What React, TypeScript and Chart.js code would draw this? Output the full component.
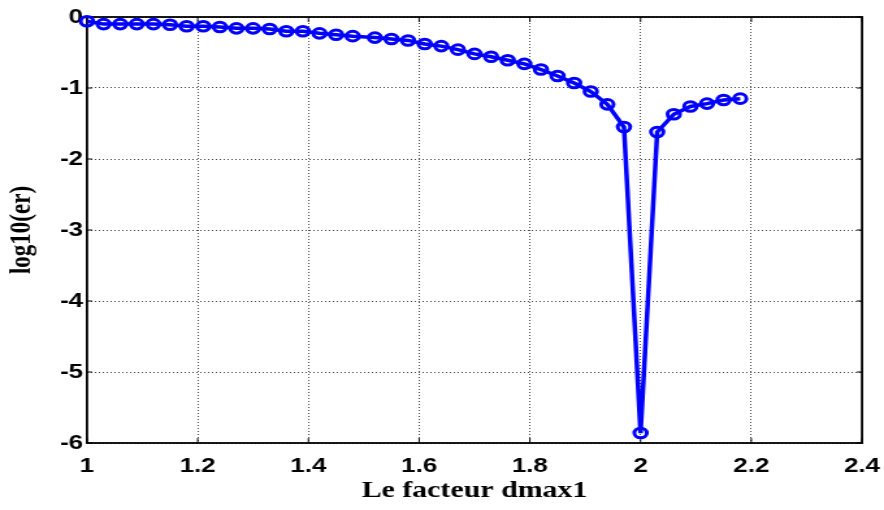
import React, { useEffect, useRef } from "react";
import { Chart, registerables } from "chart.js";

Chart.register(...registerables);

// dmax1 factor values (x) and log10 of the error (y)
const facteur: number[] = [
  1.0, 1.03, 1.06, 1.09, 1.12, 1.15, 1.18, 1.21, 1.24, 1.27,
  1.3, 1.33, 1.36, 1.39, 1.42, 1.45, 1.48, 1.52, 1.55, 1.58,
  1.61, 1.64, 1.67, 1.7, 1.73, 1.76, 1.79, 1.82, 1.85, 1.88,
  1.91, 1.94, 1.97, 2.0, 2.03, 2.06, 2.09, 2.12, 2.15, 2.18,
];
const log10er: number[] = [
  -0.06, -0.1, -0.1, -0.1, -0.1, -0.11, -0.13, -0.13, -0.14, -0.16,
  -0.16, -0.17, -0.2, -0.2, -0.23, -0.25, -0.27, -0.29, -0.31, -0.33,
  -0.38, -0.41, -0.46, -0.52, -0.56, -0.61, -0.66, -0.74, -0.83, -0.93,
  -1.05, -1.23, -1.55, -5.86, -1.62, -1.37, -1.26, -1.22, -1.17, -1.15,
];

const xTicks: number[] = [1, 1.2, 1.4, 1.6, 1.8, 2, 2.2, 2.4];
const yTicks: number[] = [0, -1, -2, -3, -4, -5, -6];

const xTitle = "Le facteur dmax1";
const yTitle = "log10(er)";

// drawing surface is rendered narrower and stretched horizontally on screen
const OUT_W = 884;
const OUT_H = 510;
const STRETCH = 1.3;
const IN_W = Math.round(OUT_W / STRETCH);

const tickFont = { family: "'Liberation Sans', Arial, sans-serif", size: 20, weight: "bold" as const };
const titleFont = { family: "'Liberation Serif', 'Times New Roman', serif", size: 23, weight: "bold" as const };

// box around the axes with inward tick marks on all four sides
const framePlugin = {
  id: "axesFrame",
  beforeDatasetsDraw(chart: any) {
    const { ctx, chartArea, scales } = chart;
    const { left, right, top, bottom } = chartArea;
    const x = scales.x;
    const y = scales.y;
    ctx.save();
    ctx.strokeStyle = "#000";
    ctx.lineWidth = 1;
    ctx.beginPath();
    x.ticks.forEach((t: any) => {
      const px = x.getPixelForValue(t.value);
      ctx.moveTo(px, bottom);
      ctx.lineTo(px, bottom - 5);
      ctx.moveTo(px, top);
      ctx.lineTo(px, top + 5);
    });
    y.ticks.forEach((t: any) => {
      const py = y.getPixelForValue(t.value);
      ctx.moveTo(left, py);
      ctx.lineTo(left + 4, py);
      ctx.moveTo(right, py);
      ctx.lineTo(right - 4, py);
    });
    ctx.stroke();
    ctx.lineWidth = 1.8;
    ctx.strokeRect(left, top, right - left, bottom - top);
    ctx.restore();
  },
};

const fmt = (v: number | string) => String(Number(Number(v).toFixed(2)));

export default function App() {
  const canvasRef = useRef<HTMLCanvasElement | null>(null);

  useEffect(() => {
    const canvas = canvasRef.current;
    if (!canvas) return;
    const chart = new Chart(canvas, {
      type: "line",
      data: {
        datasets: [
          {
            data: facteur.map((v, i) => ({ x: v, y: log10er[i] })),
            borderColor: "#0000ff",
            borderWidth: 3.5,
            pointStyle: "circle",
            pointRadius: 4.8,
            pointBorderWidth: 3,
            pointBorderColor: "#0000ff",
            pointBackgroundColor: "rgba(0,0,0,0)",
            tension: 0,
            fill: false,
            clip: 12,
          },
        ],
      },
      options: {
        animation: false,
        responsive: false,
        maintainAspectRatio: false,
        devicePixelRatio: 1,
        layout: { padding: { left: 0, top: 17, right: IN_W - 862 / STRETCH, bottom: 0 } },
        plugins: {
          legend: { display: false },
          tooltip: { enabled: false },
        },
        scales: {
          x: {
            type: "linear",
            min: 1,
            max: 2.4,
            afterBuildTicks: (s: any) => {
              s.ticks = xTicks.map((v) => ({ value: v }));
            },
            afterFit: (s: any) => {
              s.height = OUT_H - 443;
              s.paddingLeft = 0;
              s.paddingRight = 0;
            },
            ticks: {
              color: "#000",
              font: tickFont,
              padding: 11,
              maxRotation: 0,
              autoSkip: false,
              callback: (v: any) => fmt(v),
            },
            grid: { color: "#444", lineWidth: 1, drawTicks: false },
            border: { display: false, dash: [1, 2] },
            title: {
              display: true,
              text: xTitle,
              color: "#000",
              font: titleFont,
              padding: { top: 0, bottom: 5 },
            },
          },
          y: {
            type: "linear",
            min: -6,
            max: 0,
            afterBuildTicks: (s: any) => {
              s.ticks = yTicks.map((v) => ({ value: v }));
            },
            afterFit: (s: any) => {
              s.width = 87 / STRETCH;
              s.paddingTop = 0;
              s.paddingBottom = 0;
            },
            ticks: {
              color: "#000",
              font: tickFont,
              padding: 3,
              autoSkip: false,
              callback: (v: any) => fmt(v),
            },
            grid: { color: "#444", lineWidth: 1, drawTicks: false },
            border: { display: false, dash: [1, 2] },
            title: {
              display: true,
              text: yTitle,
              color: "#000",
              font: titleFont,
              padding: { top: 3, bottom: 0 },
            },
          },
        },
      },
      plugins: [framePlugin],
    } as any);
    return () => chart.destroy();
  }, []);

  return (
    <div style={{ position: "fixed", left: 0, top: 0, width: OUT_W, height: OUT_H, background: "#fff" }}>
      <canvas
        ref={canvasRef}
        width={IN_W}
        height={OUT_H}
        style={{ display: "block", width: OUT_W + "px", height: OUT_H + "px" }}
      />
    </div>
  );
}
